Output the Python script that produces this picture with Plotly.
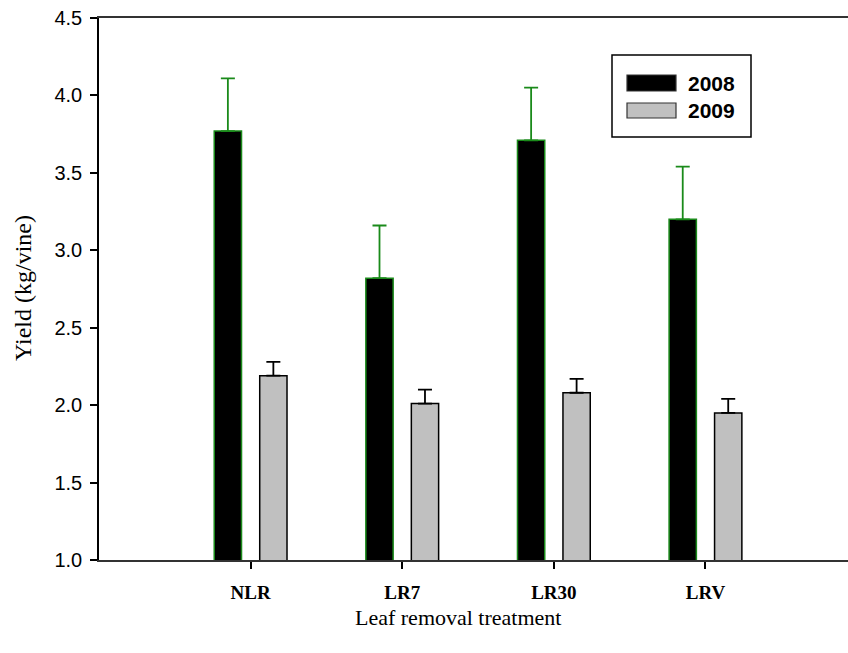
import plotly.graph_objects as go

# Yield by leaf removal treatment, two seasons
treatments = ["NLR", "LR7", "LR30", "LRV"]
yield_2008 = [3.77, 2.82, 3.71, 3.20]
se_2008 = [0.34, 0.34, 0.34, 0.34]
yield_2009 = [2.19, 2.01, 2.08, 1.95]
se_2009 = [0.09, 0.09, 0.09, 0.09]
y_ticks = [1.0, 1.5, 2.0, 2.5, 3.0, 3.5, 4.0, 4.5]

W, H = 848, 653
ML, MR, MT, MB = 99, 0, 18, 93


def px_x(p):
    return (p - ML) / (W - ML - MR)


def px_y(p):
    return (H - MB - p) / (H - MT - MB)


fig = go.Figure()
fig.add_trace(go.Bar(
    x=treatments, y=yield_2008, name="2008",
    marker=dict(color="#000000", line=dict(color="#1a8a1a", width=1.5)),
    error_y=dict(type="data", array=se_2008, arrayminus=[0] * len(se_2008),
                 symmetric=False, color="#1a8a1a", thickness=1.8, width=7),
    showlegend=False,
))
fig.add_trace(go.Bar(
    x=treatments, y=yield_2009, name="2009",
    marker=dict(color="#c0c0c0", line=dict(color="#000000", width=1.5)),
    error_y=dict(type="data", array=se_2009, arrayminus=[0] * len(se_2009),
                 symmetric=False, color="#000000", thickness=1.8, width=7),
    showlegend=False,
))

fig.update_layout(
    width=W, height=H, autosize=False,
    margin=dict(l=ML, r=MR, t=MT, b=MB, pad=0),
    paper_bgcolor="white", plot_bgcolor="white",
    barmode="group", bargap=0.4, bargroupgap=0.4,
    xaxis=dict(
        range=[-1.0, 3.94], showgrid=False, zeroline=False,
        showline=True, linecolor="#333333", linewidth=2, mirror=True,
        ticks="outside", ticklen=7, tickwidth=1.5, tickcolor="#000000",
        tickfont=dict(family="Liberation Serif", size=19, color="#000000"),
        ticklabelstandoff=7,
        tickmode="array", tickvals=treatments,
        ticktext=["<b>%s</b>" % t for t in treatments],
    ),
    yaxis=dict(
        range=[1.0, 4.5], showgrid=False, zeroline=False,
        showline=True, linecolor="#000000", linewidth=1.5,
        ticks="outside", ticklen=7, tickwidth=1.5, tickcolor="#000000",
        tickmode="array", tickvals=y_ticks,
        ticktext=["%.1f" % v for v in y_ticks],
        tickfont=dict(family="Liberation Sans", size=20, color="#000000"),
        ticklabelstandoff=4,
    ),
)

# axis titles
fig.add_annotation(
    text="Yield (kg/vine)", textangle=-90, showarrow=False,
    xref="paper", yref="paper", x=px_x(23), y=px_y(288),
    xanchor="center", yanchor="middle",
    font=dict(family="Liberation Serif", size=24, color="#000000"),
)
fig.add_annotation(
    text="Leaf removal treatment", showarrow=False,
    xref="paper", yref="paper", x=px_x(458), y=px_y(617),
    xanchor="center", yanchor="middle",
    font=dict(family="Liberation Serif", size=22, color="#000000"),
)

# legend box with wide swatches
fig.add_shape(type="rect", xref="paper", yref="paper",
              x0=px_x(612), x1=px_x(751), y0=px_y(137), y1=px_y(55),
              line=dict(color="#000000", width=1.5), fillcolor="white")
legend_items = [("2008", "#000000", "#333333", 75, 91),
                ("2009", "#c0c0c0", "#333333", 103, 118)]
for label, fill, edge, top, bot in legend_items:
    fig.add_shape(type="rect", xref="paper", yref="paper",
                  x0=px_x(627), x1=px_x(676), y0=px_y(bot), y1=px_y(top),
                  line=dict(color=edge, width=1.2), fillcolor=fill)
    fig.add_annotation(
        text="<b>%s</b>" % label, showarrow=False,
        xref="paper", yref="paper", x=px_x(686), y=px_y((top + bot) / 2),
        xanchor="left", yanchor="middle",
        font=dict(family="Liberation Sans", size=21, color="#000000"),
    )

fig.write_html("out.html")
